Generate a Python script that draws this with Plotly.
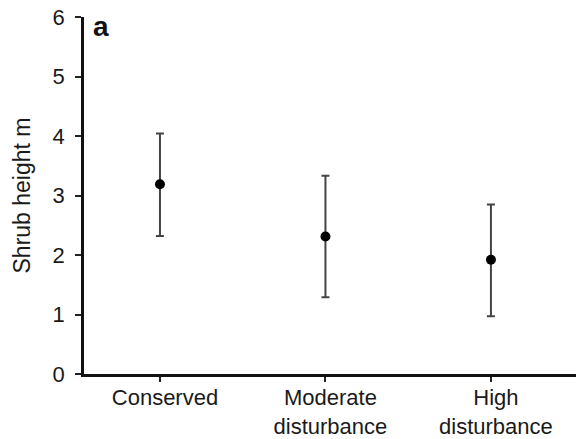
import plotly.graph_objects as go

# Shrub height by disturbance level (mean with upper/lower bounds)
categories = ["Conserved", "Moderate<br>disturbance", "High<br>disturbance"]
mean_height = [3.19, 2.31, 1.92]
upper_bound = [4.04, 3.33, 2.85]
lower_bound = [2.32, 1.29, 0.97]
y_ticks = [0, 1, 2, 3, 4, 5, 6]

x_pos = list(range(len(categories)))
err_plus = [u - m for u, m in zip(upper_bound, mean_height)]
err_minus = [m - l for m, l in zip(mean_height, lower_bound)]

FONT = "Liberation Sans, Arial, sans-serif"

fig = go.Figure()
fig.add_trace(go.Scatter(
    x=x_pos,
    y=mean_height,
    mode="markers",
    marker=dict(color="black", size=10),
    error_y=dict(
        type="data",
        symmetric=False,
        array=err_plus,
        arrayminus=err_minus,
        color="#444444",
        thickness=2,
        width=4,
    ),
    showlegend=False,
))

fig.update_layout(
    width=576,
    height=439,
    margin=dict(l=84, r=0, t=17, b=65),
    paper_bgcolor="white",
    plot_bgcolor="white",
    font=dict(family=FONT, color="#1a1a1a", size=22),
    xaxis=dict(
        range=[-0.459, 2.514],
        tickvals=x_pos,
        ticktext=categories,
        ticks="outside",
        ticklen=5,
        tickwidth=1.5,
        tickcolor="#222222",
        showline=True,
        linecolor="#111111",
        linewidth=2.5,
        showgrid=False,
        zeroline=False,
        tickfont=dict(size=22),
        ticklabelstandoff=-3,
        ticklabelshift=5,
    ),
    yaxis=dict(
        range=[0, 6],
        tickvals=y_ticks,
        ticks="outside",
        ticklen=6,
        tickwidth=1.5,
        tickcolor="#222222",
        showline=True,
        linecolor="#111111",
        linewidth=2.5,
        showgrid=False,
        zeroline=False,
        tickfont=dict(size=22),
        ticklabelstandoff=6,
        title=dict(text="Shrub height m", font=dict(size=23), standoff=16),
    ),
    annotations=[dict(
        text="<b>a</b>",
        xref="paper", yref="paper",
        x=0.035, y=0.972,
        xanchor="center", yanchor="middle",
        showarrow=False,
        font=dict(size=28, color="#111111", family=FONT),
    )],
)

fig.write_html("out.html")
